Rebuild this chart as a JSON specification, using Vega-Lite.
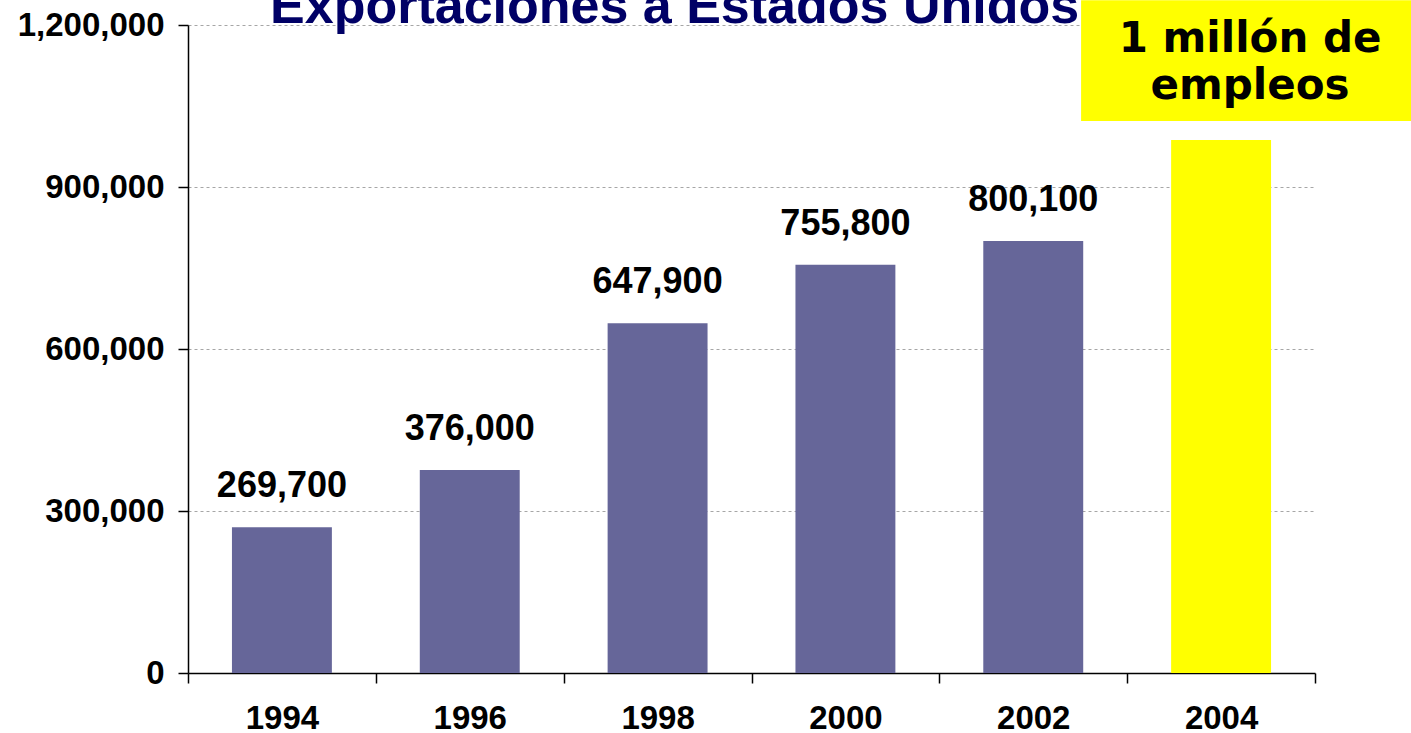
{
  "$schema": "https://vega.github.io/schema/vega-lite/v6.json",
  "autosize": {"type": "none"},
  "width": 1127,
  "height": 648,
  "padding": {"left": 188, "top": 25, "right": 96, "bottom": 60},
  "background": "white",
  "config": {"view": {"stroke": null}},
  "datasets": {
    "bars": [
      {"year": "1994", "value": 269700, "label": "269,700"},
      {"year": "1996", "value": 376000, "label": "376,000"},
      {"year": "1998", "value": 647900, "label": "647,900"},
      {"year": "2000", "value": 755800, "label": "755,800"},
      {"year": "2002", "value": 800100, "label": "800,100"},
      {"year": "2004", "value": 987000, "label": ""}
    ],
    "note": [{"year": "2004", "line": ["1 millón de", "empleos"]}],
    "heading": [{"year": "1998", "text": "Exportaciones a Estados Unidos"}]
  },
  "layer": [
    {
      "data": {"name": "bars"},
      "mark": {"type": "bar", "clip": false, "width": {"band": 0.532}},
      "encoding": {
        "x": {
          "field": "year", "type": "ordinal",
          "scale": {"paddingInner": 0, "paddingOuter": 0},
          "axis": {
            "title": null, "labelAngle": 0, "tickBand": "extent",
            "labelFont": "Liberation Sans", "labelFontWeight": "bold", "labelFontSize": 33,
            "labelColor": "black", "labelPadding": 19, "tickSize": 10, "tickColor": "black",
            "tickWidth": 1.5, "domainColor": "black", "domainWidth": 1.5, "grid": false
          }
        },
        "y": {
          "field": "value", "type": "quantitative",
          "scale": {"domain": [0, 1200000], "nice": false},
          "axis": {
            "title": null, "values": [0, 300000, 600000, 900000, 1200000], "format": ",d",
            "labelFont": "Liberation Sans", "labelFontWeight": "bold", "labelFontSize": 33,
            "labelColor": "black", "labelPadding": 14, "tickSize": 10, "tickColor": "black",
            "tickWidth": 1.5, "domainColor": "black", "domainWidth": 1.5,
            "grid": true, "gridColor": "#a6a6a6", "gridDash": [3, 3], "gridWidth": 1
          }
        },
        "color": {
          "condition": {"test": "datum.year === '2004'", "value": "#ffff00"},
          "value": "#666699"
        }
      }
    },
    {
      "data": {"name": "bars"},
      "mark": {"type": "text", "font": "Liberation Sans", "fontWeight": "bold", "fontSize": 36, "color": "black", "baseline": "alphabetic", "dy": -30},
      "encoding": {
        "x": {"field": "year", "type": "ordinal"},
        "y": {"field": "value", "type": "quantitative"},
        "text": {"field": "label"}
      }
    },
    {
      "data": {"name": "note"},
      "mark": {"type": "rect", "color": "#ffff00", "width": 330, "xOffset": 25},
      "encoding": {
        "x": {"field": "year", "type": "ordinal"},
        "y": {"datum": 1246000},
        "y2": {"datum": 1022000}
      }
    },
    {
      "data": {"name": "note"},
      "mark": {"type": "text", "font": "DejaVu Sans", "fontWeight": "bold", "fontSize": 42, "color": "black", "baseline": "alphabetic", "lineHeight": 47, "dx": 29, "dy": 27},
      "encoding": {
        "x": {"field": "year", "type": "ordinal"},
        "y": {"datum": 1200000},
        "text": {"field": "line"}
      }
    },
    {
      "data": {"name": "heading"},
      "mark": {"type": "text", "font": "Liberation Sans", "fontWeight": "bold", "fontSize": 52, "color": "#000066", "baseline": "alphabetic", "dx": 17, "dy": -2},
      "encoding": {
        "x": {"field": "year", "type": "ordinal"},
        "y": {"datum": 1200000},
        "text": {"field": "text"}
      }
    }
  ]
}
